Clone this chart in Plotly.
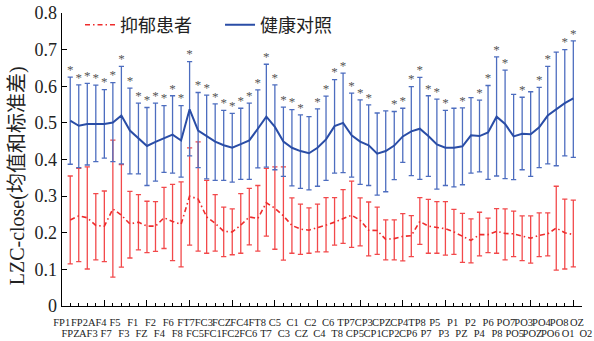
import plotly.graph_objects as go

channels = ['FP1','FPZ','FP2','AF3','AF4','F7','F5','F3','F1','FZ','F2','F4','F6','F8',
            'FT7','FC5','FC3','FC1','FCZ','FC2','FC4','FC6','FT8','T7','C5','C3','C1','CZ',
            'C2','C4','C6','T8','TP7','CP5','CP3','CP1','CPZ','CP2','CP4','CP6','TP8','P7',
            'P5','P3','P1','PZ','P2','P4','P6','P8','PO7','PO5','PO3','POZ','PO4','PO6',
            'PO8','O1','OZ','O2']

healthy_mean = [0.506,0.492,0.497,0.497,0.497,0.501,0.520,0.479,0.457,0.437,
                0.448,0.457,0.468,0.452,0.537,0.479,0.464,0.449,0.439,0.432,
                0.442,0.452,0.484,0.517,0.489,0.449,0.432,0.423,0.417,0.432,
                0.455,0.491,0.500,0.466,0.449,0.439,0.416,0.423,0.438,0.463,
                0.477,0.484,0.464,0.441,0.432,0.432,0.436,0.466,0.464,0.474,
                0.517,0.497,0.463,0.470,0.469,0.488,0.520,0.538,0.554,0.567]
healthy_upper = [0.625,0.604,0.608,0.603,0.591,0.610,0.654,0.595,0.554,0.542,
                 0.554,0.547,0.574,0.547,0.667,0.583,0.576,0.552,0.534,0.526,
                 0.540,0.554,0.590,0.660,0.604,0.543,0.536,0.522,0.517,0.538,
                 0.573,0.618,0.636,0.581,0.563,0.549,0.527,0.533,0.531,0.540,
                 0.599,0.624,0.574,0.565,0.534,0.540,0.541,0.569,0.562,0.602,
                 0.680,0.644,0.578,0.570,0.585,0.597,0.654,0.693,0.700,0.724]
healthy_lower = [0.387,0.378,0.385,0.394,0.404,0.394,0.388,0.361,0.361,0.329,
                 0.341,0.365,0.363,0.352,0.410,0.378,0.347,0.343,0.343,0.338,
                 0.346,0.346,0.377,0.379,0.372,0.354,0.328,0.321,0.317,0.327,
                 0.343,0.363,0.364,0.352,0.332,0.329,0.303,0.312,0.345,0.392,
                 0.356,0.346,0.354,0.319,0.329,0.325,0.331,0.363,0.366,0.346,
                 0.355,0.348,0.345,0.372,0.354,0.378,0.388,0.383,0.410,0.406]

depressed_mean = [0.235,0.246,0.241,0.220,0.218,0.265,0.248,0.224,0.229,0.218,
                  0.218,0.241,0.231,0.223,0.300,0.292,0.243,0.226,0.204,0.202,
                  0.221,0.243,0.239,0.282,0.267,0.246,0.220,0.210,0.207,0.213,
                  0.221,0.229,0.239,0.248,0.234,0.207,0.206,0.182,0.184,0.190,
                  0.192,0.231,0.218,0.215,0.211,0.202,0.191,0.179,0.195,0.195,
                  0.204,0.198,0.197,0.191,0.185,0.193,0.197,0.213,0.200,0.195]
depressed_upper = [0.355,0.376,0.380,0.307,0.314,0.453,0.386,0.313,0.304,0.286,
                   0.285,0.324,0.332,0.339,0.432,0.448,0.343,0.304,0.270,0.265,
                   0.307,0.321,0.329,0.376,0.380,0.380,0.295,0.278,0.268,0.278,
                   0.296,0.296,0.318,0.341,0.295,0.284,0.270,0.235,0.235,0.252,
                   0.247,0.296,0.291,0.285,0.285,0.264,0.253,0.238,0.256,0.240,
                   0.266,0.265,0.259,0.246,0.246,0.254,0.254,0.327,0.292,0.289]
depressed_lower = [0.115,0.121,0.101,0.126,0.121,0.079,0.106,0.131,0.153,0.146,
                   0.149,0.157,0.124,0.107,0.166,0.150,0.144,0.150,0.135,0.140,
                   0.144,0.167,0.150,0.191,0.155,0.125,0.144,0.141,0.144,0.148,
                   0.148,0.166,0.171,0.160,0.164,0.137,0.141,0.126,0.126,0.123,
                   0.135,0.168,0.144,0.144,0.139,0.141,0.119,0.118,0.137,0.146,
                   0.144,0.126,0.135,0.124,0.117,0.135,0.137,0.098,0.101,0.107]

significant = [1,1,1,1,1,1,1,1,1,1, 1,1,1,1,1,1,1,1,1,1,
               1,1,1,1,1,1,1,1,0,1, 1,1,1,1,1,1,0,0,1,1,
               1,1,1,1,1,0,1,0,1,1, 1,1,0,1,0,1,1,0,1,1]

series_names = ['抑郁患者', '健康对照']
y_title = 'LZC-close(均值和标准差)'

x = list(range(1, len(channels) + 1))

RED = '#ee2c2c'
RED_BAR = '#f2494b'
BLUE = '#2a4da6'
BLUE_BAR = '#4d6dbf'
SERIF = 'Liberation Serif, Times New Roman, serif'
CJK = 'Liberation Serif, Noto Sans CJK SC, serif'

fig = go.Figure()

fig.add_trace(go.Scatter(
    x=x, y=depressed_mean, mode='lines', name=series_names[0],
    line=dict(color=RED, width=1.6, dash='5px,3px,1.5px,3px'),
    error_y=dict(type='data', symmetric=False,
                 array=[u - m for u, m in zip(depressed_upper, depressed_mean)],
                 arrayminus=[m - l for m, l in zip(depressed_mean, depressed_lower)],
                 color=RED_BAR, thickness=1.3, width=2.6),
))

fig.add_trace(go.Scatter(
    x=x, y=healthy_mean, mode='lines', name=series_names[1],
    line=dict(color=BLUE, width=2),
    error_y=dict(type='data', symmetric=False,
                 array=[u - m for u, m in zip(healthy_upper, healthy_mean)],
                 arrayminus=[m - l for m, l in zip(healthy_mean, healthy_lower)],
                 color=BLUE_BAR, thickness=1.3, width=2.6),
))

# significance stars above the healthy upper error caps
fig.add_trace(go.Scatter(
    x=[xi for xi, s in zip(x, significant) if s],
    y=[u for u, s in zip(healthy_upper, significant) if s],
    mode='text', text=['*'] * sum(significant), textposition='top center',
    textfont=dict(family=SERIF, size=13, color='#555555'),
    showlegend=False, hoverinfo='skip',
))

# dummy traces so the label axes (own subplot spanning the full width) are drawn
fig.add_trace(go.Scatter(x=[x[0]], y=[None], showlegend=False, hoverinfo='skip',
                         xaxis='x2', yaxis='y2'))
fig.add_trace(go.Scatter(x=[x[0]], y=[None], showlegend=False, hoverinfo='skip',
                         xaxis='x3', yaxis='y2'))

top_vals = x[0::2]
top_text = channels[0::2]
bot_vals = x[1::2]
bot_text = channels[1::2]

n = len(channels)
xr = [0, n + 1]
# label axes are spread slightly wider than the data axis, as in the original figure
lr = [-0.09, n + 0.58]

fig.update_layout(
    width=594, height=341,
    margin=dict(l=52, r=2, t=13, b=30),
    paper_bgcolor='white', plot_bgcolor='rgba(0,0,0,0)',
    showlegend=True,
    legend=dict(orientation='h', x=0.052, y=1.022, xanchor='left', yanchor='top',
                font=dict(family=CJK, size=18, color='#222222'),
                bgcolor='rgba(0,0,0,0)', itemwidth=30, entrywidth=95),
    xaxis=dict(range=xr, domain=[0.018, 0.983], showline=True, linecolor='black', linewidth=1.2,
               ticks='inside', tickmode='linear', tick0=0, dtick=5, ticklen=6,
               tickcolor='black', tickwidth=1, showticklabels=False,
               showgrid=False, zeroline=False,
               minor=dict(ticks='inside', dtick=1, tick0=0, ticklen=3,
                          tickcolor='black', tickwidth=1, showgrid=False)),
    yaxis2=dict(domain=[0, 1], anchor='x2', range=[0, 1], visible=False,
                showgrid=False, zeroline=False),
    xaxis2=dict(range=lr, domain=[0, 1], anchor='y2', side='bottom',
                tickmode='array', tickvals=top_vals, ticktext=top_text,
                ticks='', showline=False, showgrid=False, zeroline=False,
                tickangle=0,
                tickfont=dict(family=SERIF, size=10.5, color='#222222'),
                ticklabelstandoff=8),
    xaxis3=dict(range=lr, overlaying='x2', anchor='y2', side='bottom',
                tickmode='array', tickvals=bot_vals, ticktext=bot_text,
                ticks='', showline=False, showgrid=False, zeroline=False,
                tickangle=0,
                tickfont=dict(family=SERIF, size=10.5, color='#222222'),
                ticklabelstandoff=19),
    yaxis=dict(range=[0, 0.8], showline=True, linecolor='black', linewidth=1.2,
               ticks='inside', ticklen=5, tickcolor='black', tickwidth=1,
               tickmode='array',
               tickvals=[0, 0.1, 0.2, 0.3, 0.4, 0.5, 0.6, 0.7, 0.8],
               ticktext=['0', '0.1', '0.2', '0.3', '0.4', '0.5', '0.6', '0.7', '0.8'],
               tickfont=dict(family=SERIF, size=18, color='#222222'),
               showgrid=False, zeroline=False),
    annotations=[dict(text=y_title, textangle=-90, xref='paper', yref='paper',
                      x=-0.065, y=0.446, xanchor='center', yanchor='middle',
                      showarrow=False,
                      font=dict(family=CJK, size=20, color='#222222'))],
)

fig.write_html('out.html')
